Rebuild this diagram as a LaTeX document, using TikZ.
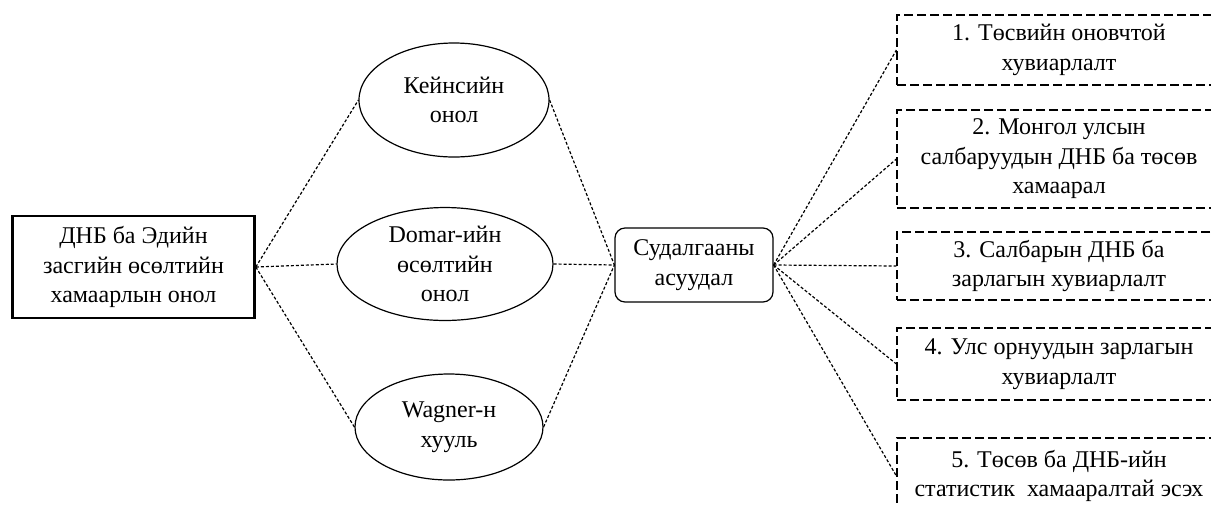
\documentclass[tikz,border=0pt]{standalone}
\usepackage{fontspec}
\setmainfont{Liberation Serif}
\usetikzlibrary{shapes.geometric}

\begin{document}
\begin{tikzpicture}[x=0.5pt, y=-0.5pt]
        \useasboundingbox (0,0) rectangle (1211,505);
        \clip (0,0) rectangle (1211,505);
        \tikzset{
            base text/.style={align=center, font=\fontsize{12}{14.8}\selectfont},
            main box/.style={draw, base text, line width=1.3pt,
                minimum width=121pt, minimum height=51pt},
            theory/.style={draw, ellipse, base text, line width=0.6pt, inner sep=1pt},
            question box/.style={draw, base text, rounded corners=5pt, line width=0.6pt,
                minimum width=79pt, minimum height=37pt},
            topic box/.style={draw, base text, line width=0.6pt,
                dash pattern=on 4.5pt off 2pt, minimum width=162pt},
            link/.style={line width=0.6pt, dash pattern=on 1.5pt off 1pt}
        }

        % main theory
        \node[main box] (dnb) at (133.5,267) {ДНБ ба Эдийн\\засгийн өсөлтийн\\хамаарлын онол};

        % three theories
        \node[theory, minimum width=95pt, minimum height=57pt] (keynes) at (454,100) {Кейнсийн\\онол};
        \node[theory, minimum width=108pt, minimum height=54pt] (domar) at (445,264) {Domar-ийн\\өсөлтийн\\онол};
        \node[theory, minimum width=94pt, minimum height=53pt] (wagner) at (449,427) {Wagner-н\\хууль};

        % research question
        \node[question box] (asuudal) at (694,265) {Судалгааны\\асуудал};

        % topics (n/y/height)
        \foreach \n/\y/\h/\txt in {
            1/50/35/{1. Төсвийн оновчтой\\хувиарлалт},
            2/159/49/{2. Монгол улсын\\салбаруудын ДНБ ба төсөв\\хамаарал},
            3/266/34/{3. Салбарын ДНБ ба\\зарлагын хувиарлалт},
            4/364/36/{4. Улс орнуудын зарлагын\\хувиарлалт},
            5/476/38/{5. Төсөв ба ДНБ-ийн\\статистик~ хамааралтай эсэх}} {
            \node[topic box, minimum height=\h pt] (q\n) at (1059,\y) {\txt};
        }

        % connectors
        \foreach \t in {keynes, domar, wagner} {
            \draw[link] (dnb.east) -- (\t.west);
            \draw[link] (\t.east) -- (asuudal.west);
        }
        \foreach \n in {1,...,5} {
            \draw[link] (asuudal.east) -- (q\n.west);
        }
    \end{tikzpicture}
\end{document}
